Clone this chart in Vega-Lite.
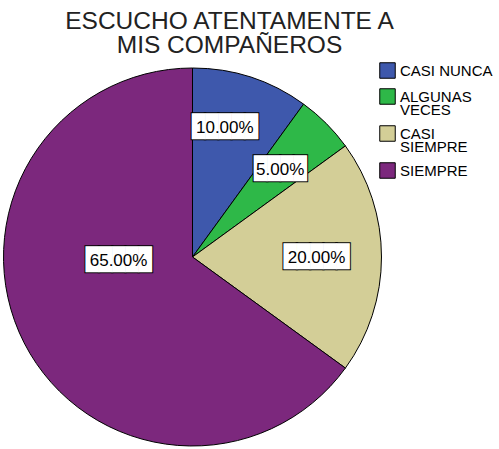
{
  "$schema": "https://vega.github.io/schema/vega-lite/v6.json",
  "width": 385,
  "height": 384,
  "autosize": "none",
  "padding": {"left": 0, "top": 65, "right": 114, "bottom": 0},
  "background": "white",
  "title": {
    "text": ["ESCUCHO ATENTAMENTE A", "MIS COMPAÑEROS"],
    "anchor": "middle",
    "frame": "group",
    "dx": 37,
    "dy": -4,
    "font": "Liberation Sans",
    "fontSize": 24.5,
    "fontWeight": "normal",
    "color": "#222222",
    "lineHeight": 24,
    "baseline": "top",
    "offset": 0
  },
  "data": {
    "values": [
      {"respuesta": "CASI NUNCA", "pct": 10, "etiqueta": "10.00%", "orden": 1},
      {"respuesta": "ALGUNAS VECES", "pct": 5, "etiqueta": "5.00%", "orden": 2},
      {"respuesta": "CASI SIEMPRE", "pct": 20, "etiqueta": "20.00%", "orden": 3},
      {"respuesta": "SIEMPRE", "pct": 65, "etiqueta": "65.00%", "orden": 4}
    ]
  },
  "encoding": {
    "theta": {"field": "pct", "type": "quantitative", "stack": true},
    "order": {"field": "orden", "type": "quantitative"},
    "detail": {"field": "respuesta", "type": "nominal"}
  },
  "layer": [
    {
      "mark": {"type": "arc", "radius": 189, "stroke": "black", "strokeWidth": 1},
      "encoding": {
        "color": {
          "field": "respuesta",
          "type": "nominal",
          "scale": {
            "domain": ["CASI NUNCA", "ALGUNAS VECES", "CASI SIEMPRE", "SIEMPRE"],
            "range": ["#3E58AC", "#2EB848", "#D3CE97", "#7C287D"]
          },
          "legend": {
            "orient": "none",
            "legendX": 379,
            "legendY": -3,
            "title": null,
            "symbolType": "square",
            "symbolSize": 240,
            "symbolStrokeColor": "black",
            "symbolStrokeWidth": 1,
            "labelFont": "Liberation Sans",
            "labelFontSize": 15,
            "labelColor": "black",
            "labelLimit": 120,
            "labelOffset": 4,
            "rowPadding": 5,
            "labelExpr": "datum.label == 'CASI NUNCA' ? datum.label : split(datum.label, ' ')",
            "encode": {"labels": {"update": {"lineHeight": {"value": 13}}}}
          }
        }
      }
    },
    {
      "mark": {"type": "text", "radius": 124, "font": "DejaVu Sans Mono", "fontSize": 22, "fill": "white", "stroke": "black", "strokeWidth": 2, "align": "center", "baseline": "middle"},
      "encoding": {
        "text": {"condition": [{"test": "!(datum.respuesta == 'ALGUNAS VECES' || datum.respuesta == 'CASI SIEMPRE')", "value": ""}, {"test": "length(datum.etiqueta) < 6", "value": "████"}], "value": "█████"}
      }
    },
    {
      "mark": {"type": "text", "radius": 124, "font": "DejaVu Sans Mono", "fontSize": 22, "fill": "white", "align": "center", "baseline": "middle"},
      "encoding": {
        "text": {"condition": [{"test": "!(datum.respuesta == 'ALGUNAS VECES' || datum.respuesta == 'CASI SIEMPRE')", "value": ""}, {"test": "length(datum.etiqueta) < 6", "value": "████"}], "value": "█████"}
      }
    },
    {
      "mark": {"type": "text", "radius": 124, "dy": 1, "font": "Liberation Sans", "fontSize": 17, "fill": "black", "align": "center", "baseline": "middle"},
      "encoding": {
        "text": {"condition": {"test": "!(datum.respuesta == 'ALGUNAS VECES' || datum.respuesta == 'CASI SIEMPRE')", "value": ""}, "field": "etiqueta", "type": "nominal"}
      }
    },
    {
      "mark": {"type": "text", "radius": 124, "dx": -6, "dy": -12, "font": "DejaVu Sans Mono", "fontSize": 22, "fill": "white", "stroke": "black", "strokeWidth": 2, "align": "center", "baseline": "middle"},
      "encoding": {
        "text": {"condition": {"test": "datum.respuesta != 'CASI NUNCA'", "value": ""}, "value": "█████"}
      }
    },
    {
      "mark": {"type": "text", "radius": 124, "dx": -6, "dy": -12, "font": "DejaVu Sans Mono", "fontSize": 22, "fill": "white", "align": "center", "baseline": "middle"},
      "encoding": {
        "text": {"condition": {"test": "datum.respuesta != 'CASI NUNCA'", "value": ""}, "value": "█████"}
      }
    },
    {
      "mark": {"type": "text", "radius": 124, "dx": -6, "dy": -11, "font": "Liberation Sans", "fontSize": 17, "fill": "black", "align": "center", "baseline": "middle"},
      "encoding": {
        "text": {"condition": {"test": "datum.respuesta != 'CASI NUNCA'", "value": ""}, "field": "etiqueta", "type": "nominal"}
      }
    },
    {
      "mark": {"type": "text", "radius": 83, "dy": -35, "font": "DejaVu Sans Mono", "fontSize": 22, "fill": "white", "stroke": "black", "strokeWidth": 2, "align": "center", "baseline": "middle"},
      "encoding": {
        "text": {"condition": {"test": "datum.respuesta != 'SIEMPRE'", "value": ""}, "value": "█████"}
      }
    },
    {
      "mark": {"type": "text", "radius": 83, "dy": -35, "font": "DejaVu Sans Mono", "fontSize": 22, "fill": "white", "align": "center", "baseline": "middle"},
      "encoding": {
        "text": {"condition": {"test": "datum.respuesta != 'SIEMPRE'", "value": ""}, "value": "█████"}
      }
    },
    {
      "mark": {"type": "text", "radius": 83, "dy": -34, "font": "Liberation Sans", "fontSize": 17, "fill": "black", "align": "center", "baseline": "middle"},
      "encoding": {
        "text": {"condition": {"test": "datum.respuesta != 'SIEMPRE'", "value": ""}, "field": "etiqueta", "type": "nominal"}
      }
    }
  ],
  "config": {"view": {"stroke": null}}
}
